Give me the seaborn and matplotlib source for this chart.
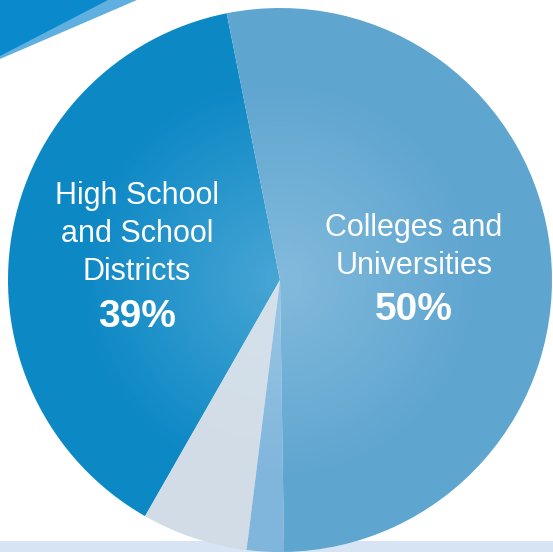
import numpy as np
import matplotlib
matplotlib.use("Agg")
import matplotlib.pyplot as plt
from matplotlib.patches import Polygon, Rectangle, Circle
import seaborn as sns

# ---- data ----
categories = ["High School and School Districts", "Other A", "Other B", "Colleges and Universities"]
shares = [38.6, 6.3, 2.2, 52.9]          # wedge sizes as drawn
label_texts = ["High School\nand School\nDistricts", "Colleges and\nUniversities"]
pct_texts = ["39%", "50%"]
colors = ["#0c88c5", "#d2dce6", "#80b5dc", "#5ea5d0"]

sns.set_theme(style="white")
plt.rcParams['font.family'] = ['Liberation Sans', 'DejaVu Sans']

W, H = 553, 552
fig = plt.figure(figsize=(W / 100, H / 100), dpi=100)
ax = fig.add_axes([0, 0, 1, 1])

def Y(y_img):
    return H - y_img

# bottom band
ax.add_patch(Rectangle((0, Y(552)), W, 11, color="#d6e4f4", zorder=0, lw=0))

# top-left decoration
ax.add_patch(Polygon([(0, Y(0)), (137, Y(0)), (0, Y(59))], closed=True, color="#5fb0e0", lw=0, zorder=1))
ax.add_patch(Polygon([(0, Y(0)), (108, Y(0)), (0, Y(56))], closed=True, color="#0a89cd", lw=0, zorder=2))

cx, cy, R = 280, Y(280), 272
wedges, _ = ax.pie(shares, colors=colors, startangle=101.3, counterclock=True,
                   center=(cx, cy), radius=R, frame=True,
                   wedgeprops=dict(linewidth=0, edgecolor="none"))
for w in wedges:
    w.set_zorder(3)
ax.set_xlim(0, W)
ax.set_ylim(0, H)
ax.set_aspect("equal")
ax.axis("off")

# soft radial highlight near the center
n = 300
xs = np.linspace(cx - R, cx + R, n)
ys = np.linspace(cy - R, cy + R, n)
XX, YY = np.meshgrid(xs, ys)
rr = np.hypot(XX - cx, YY - cy) / R
alpha = np.clip(0.30 * (1 - rr / 0.75), 0, None)
img = np.ones((n, n, 4))
img[..., :3] = np.array([0.85, 0.93, 0.98])
img[..., 3] = alpha
im = ax.imshow(img, extent=(cx - R, cx + R, cy - R, cy + R), origin="lower", zorder=4,
               interpolation="bilinear")
im.set_clip_path(Circle((cx, cy), R, transform=ax.transData))
ax.set_xlim(0, W)
ax.set_ylim(0, H)

# labels
ax.text(137, Y(234), label_texts[0], ha="center", va="center", color="white",
        fontsize=22, linespacing=1.36, zorder=6)
ax.text(137, Y(317), pct_texts[0], ha="center", va="center", color="white",
        fontsize=28, fontweight="bold", zorder=6)
ax.text(414, Y(247), label_texts[1], ha="center", va="center", color="white",
        fontsize=22, linespacing=1.36, zorder=6)
ax.text(414, Y(310), pct_texts[1], ha="center", va="center", color="white",
        fontsize=28, fontweight="bold", zorder=6)

fig.savefig("out.png", dpi=100)
